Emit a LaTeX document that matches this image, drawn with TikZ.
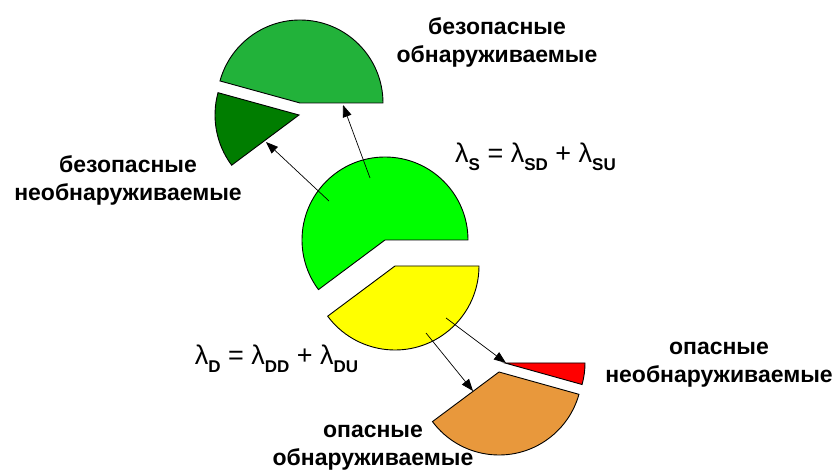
\documentclass[tikz,border=0pt]{standalone}
\usepackage{fontspec}
\setmainfont{Liberation Sans}
\usetikzlibrary{arrows.meta}

\definecolor{sgreen}{RGB}{0,255,0}
\definecolor{sdgreen}{RGB}{34,178,58}
\definecolor{sugreen}{RGB}{0,125,0}
\definecolor{dyellow}{RGB}{255,255,0}
\definecolor{ddorange}{RGB}{232,152,60}
\definecolor{dured}{RGB}{255,0,0}

\newcommand{\lsub}[1]{λ\raisebox{-8pt}{\fontsize{17}{17}\selectfont\bfseries #1}}

\begin{document}
\begin{tikzpicture}[x=1pt, y=1pt,
    piece/.style={draw=black, line width=0.9pt, line join=miter},
    arrow/.style={-{Triangle[length=12pt,width=9pt]}, line width=0.7pt},
    lbl/.style={font=\fontsize{23}{28}\selectfont\bfseries, align=center, inner sep=0pt},
    eqn/.style={font=\fontsize{27}{30}\selectfont, inner sep=0pt, anchor=base}
  ]
    \useasboundingbox (0,0) rectangle (837,471);

    % centres of the pie pieces
    \coordinate (s) at (385,231);
    \coordinate (d) at (395,205);
    \coordinate (sd) at (300,368);
    \coordinate (su) at (299,356);
    \coordinate (dd) at (499,99);
    \coordinate (du) at (505,108);

    % the pieces
    \draw[piece, fill=sgreen] (s) -- ++(0:83) arc[start angle=0, end angle=216.7, radius=83] -- cycle;
    \draw[piece, fill=dyellow] (d) -- ++(216.7:84) arc[start angle=216.7, end angle=360, radius=84] -- cycle;
    \draw[piece, fill=sdgreen] (sd) -- ++(0:83) arc[start angle=0, end angle=164.6, radius=83] -- cycle;
    \draw[piece, fill=sugreen] (su) -- ++(164.6:84) arc[start angle=164.6, end angle=216.7, radius=84] -- cycle;
    \draw[piece, fill=ddorange] (dd) -- ++(216.7:83) arc[start angle=216.7, end angle=344.4, radius=83] -- cycle;
    \draw[piece, fill=dured] (du) -- ++(344.4:80) arc[start angle=344.4, end angle=360, radius=80] -- cycle;

    % arrow ends
    \coordinate (s-a) at (370,293);
    \coordinate (s-b) at (329,270);
    \coordinate (d-a) at (446,153);
    \coordinate (d-b) at (426,138);
    \coordinate (sd-in) at (343,366);
    \coordinate (su-in) at (266,329);
    \coordinate (du-in) at (506,108);
    \coordinate (dd-in) at (473,80);

    \draw[arrow] (s-a) -- (sd-in);
    \draw[arrow] (s-b) -- (su-in);
    \draw[arrow] (d-a) -- (du-in);
    \draw[arrow] (d-b) -- (dd-in);

    % labels
    \node[lbl] (sdlabel) at (497,428.5) {безопасные\\обнаруживаемые};
    \node[lbl] (sulabel) at (128,290.5) {безопасные\\необнаруживаемые};
    \node[lbl] (dulabel) at (719,106) {опасные\\необнаруживаемые};
    \node[lbl] (ddlabel) at (373,23) {опасные\\обнаруживаемые};

    \node[eqn] (seq) at (535.5,308) {\lsub{S} = \lsub{SD} + \lsub{SU}};
    \node[eqn] (deq) at (276.5,106) {\lsub{D} = \lsub{DD} + \lsub{DU}};
  \end{tikzpicture}
\end{document}
